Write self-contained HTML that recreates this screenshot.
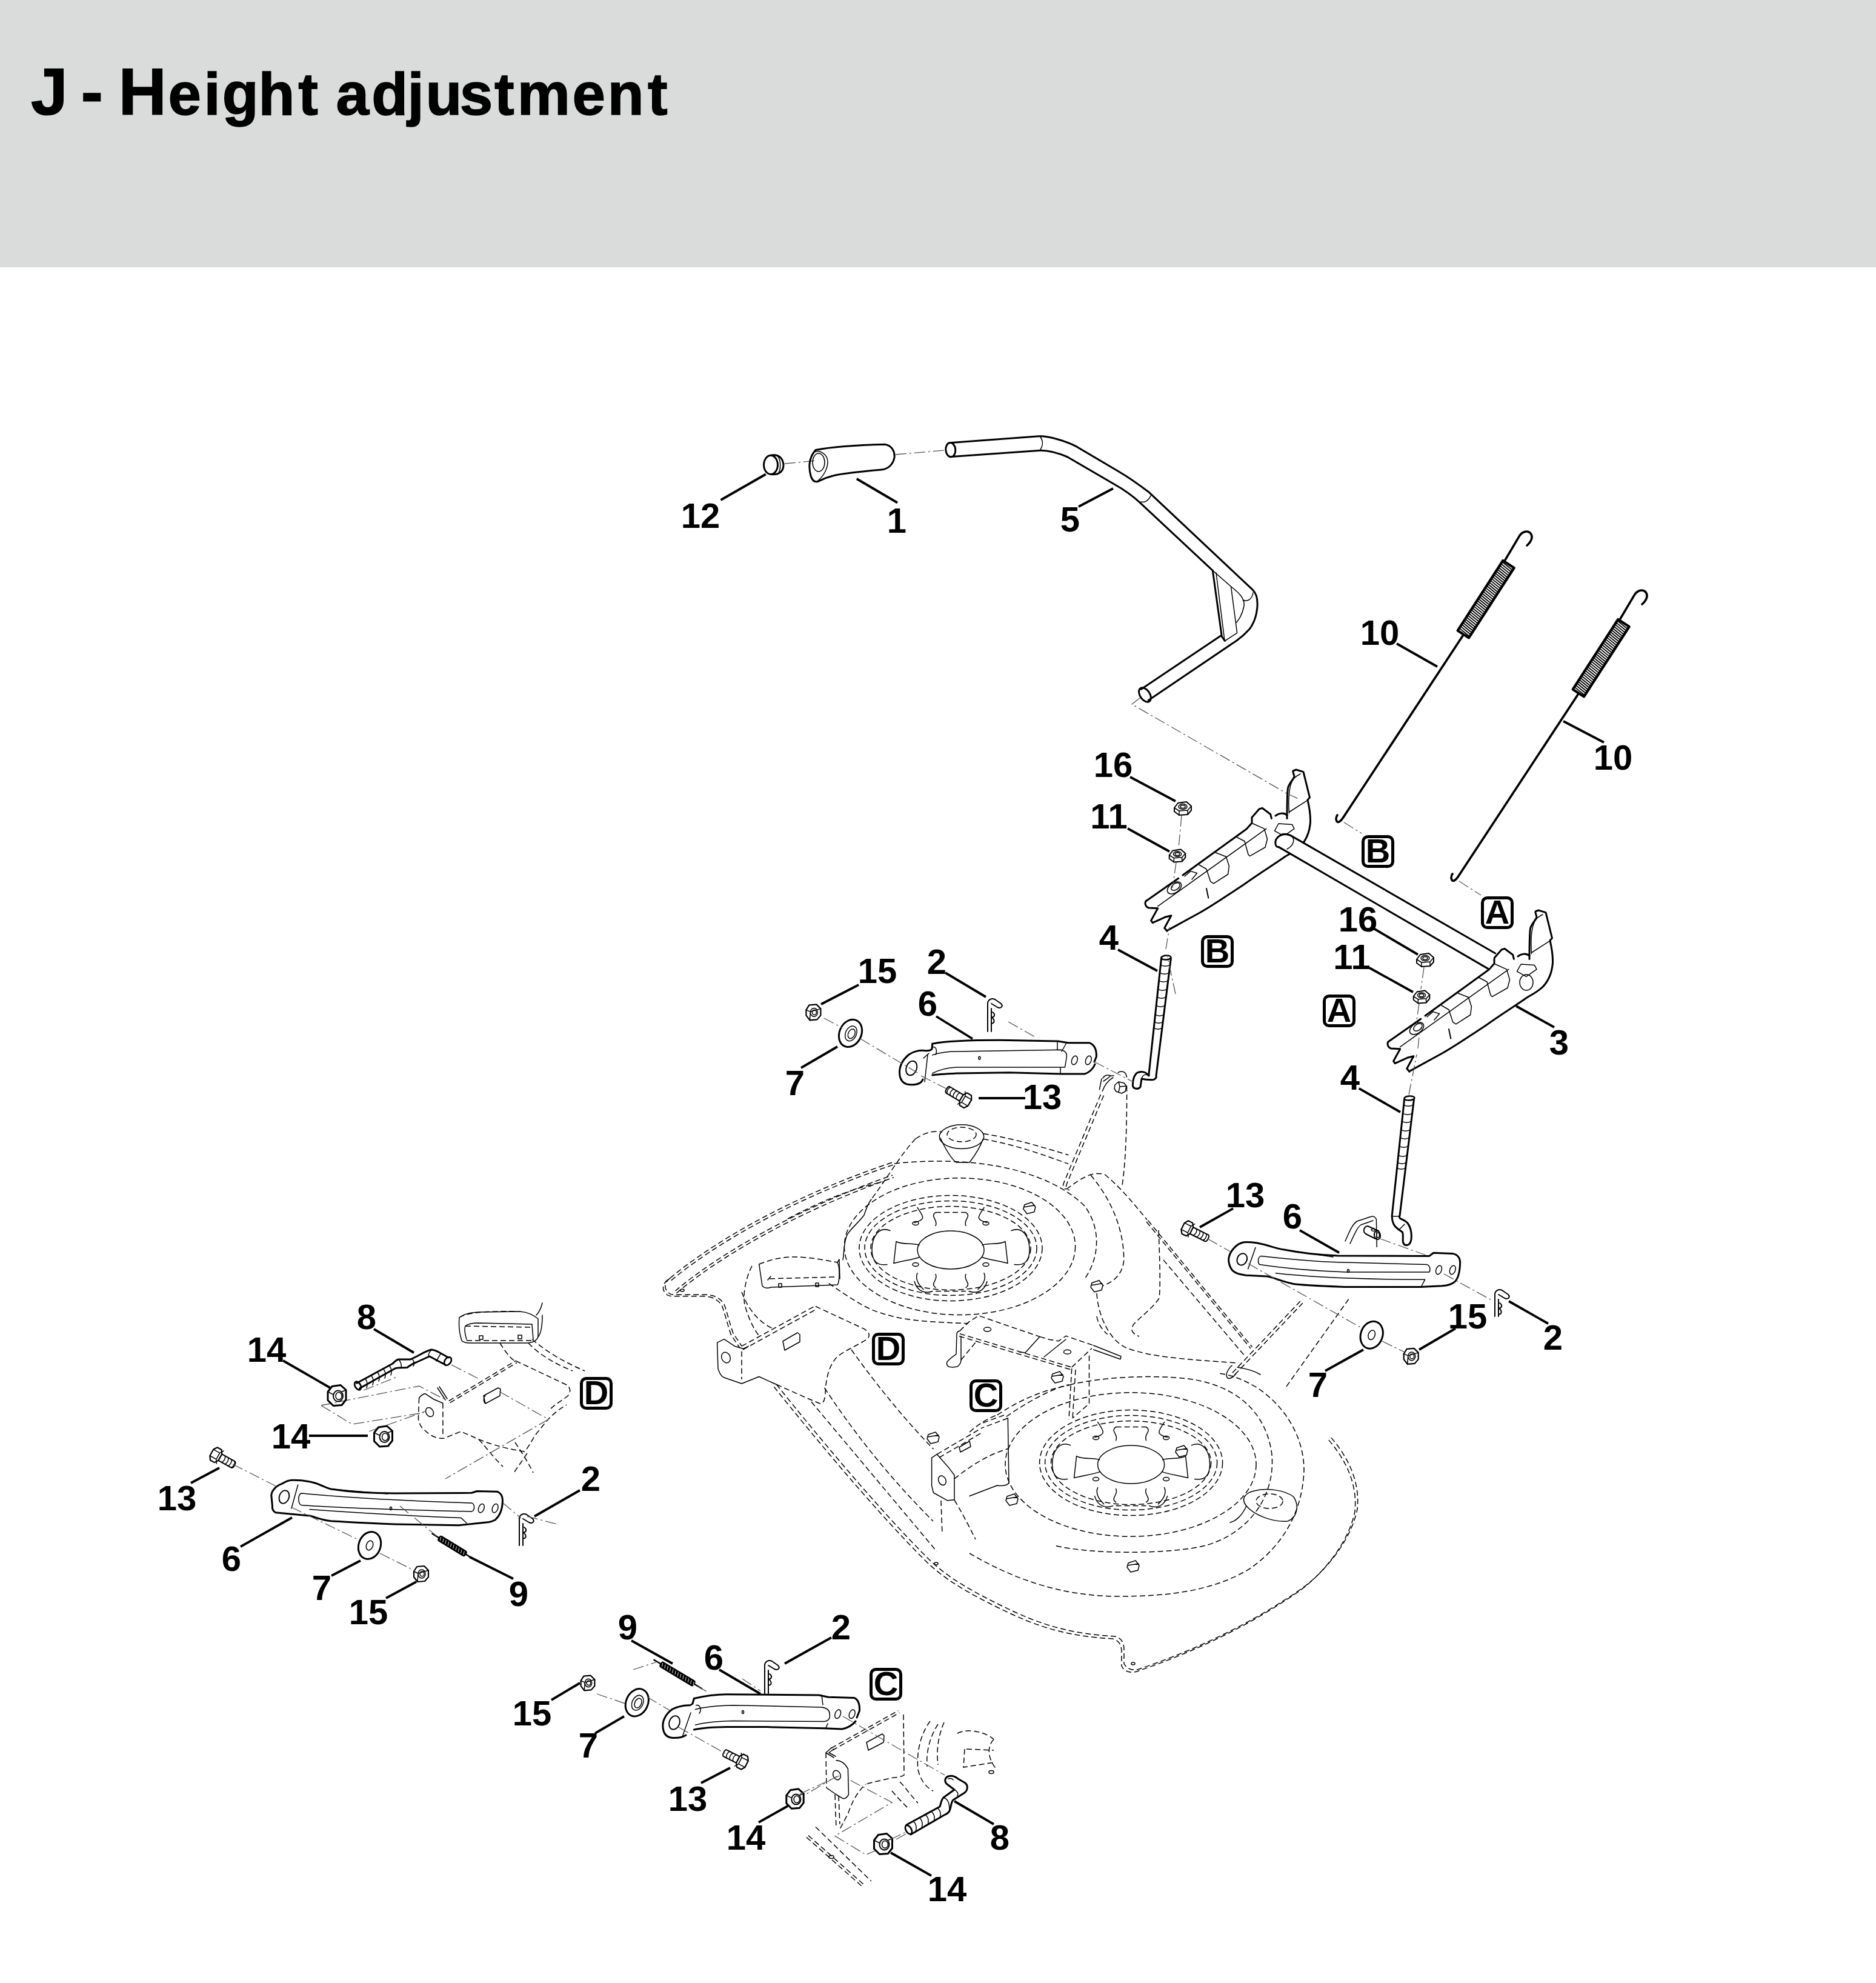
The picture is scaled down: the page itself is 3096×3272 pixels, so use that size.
<!DOCTYPE html>
<html><head><meta charset="utf-8">
<style>
html,body{margin:0;padding:0;background:#fff;}
body{width:3096px;height:3272px;position:relative;overflow:hidden;font-family:"Liberation Sans",sans-serif;}
#hdr{position:absolute;left:0;top:0;width:3096px;height:441px;background:#dadcdb;}
#title{position:absolute;left:52px;top:96px;font-weight:bold;font-size:110px;line-height:1;white-space:nowrap;color:#000;letter-spacing:-3.3px;}
svg{position:absolute;left:0;top:0;}
.lb{font-family:"Liberation Sans",sans-serif;font-weight:bold;font-size:58px;text-anchor:middle;fill:#000;}
.bx{font-family:"Liberation Sans",sans-serif;font-weight:bold;font-size:56px;text-anchor:middle;fill:#000;}
.ol{fill:none;stroke:#000;stroke-width:3;stroke-linejoin:round;stroke-linecap:round;}
.th{fill:none;stroke:#000;stroke-width:1.5;stroke-linejoin:round;stroke-linecap:round;}
.ld{fill:none;stroke:#000;stroke-width:3.8;stroke-linecap:butt;}
.dd{fill:none;stroke:#000;stroke-width:1.5;stroke-dasharray:9 5;}
.dc{fill:none;stroke:#555;stroke-width:1.3;stroke-dasharray:18 5 3 5;}
.wf{fill:#fff;}
</style></head><body>
<div id="hdr"></div>
<svg width="3096" height="3272" viewBox="0 0 3096 3272">
<!-- title.svg -->
<g font-family="Liberation Sans" font-weight="bold" fill="#000" stroke="#000">
<text x="50.75" y="189" font-size="110" stroke-width="1.2">J</text>
<text x="133.6" y="189" font-size="110" stroke-width="1.2">-</text>
<text x="195.5" y="189" font-size="110" stroke-width="1.2">H</text>
<text x="277.4" y="189" font-size="98" stroke-width="1.5">e</text>
<text x="336.5" y="189" font-size="98" stroke-width="1.5">i</text>
<text x="366.7" y="189" font-size="98" stroke-width="1.5">g</text>
<text x="426.4" y="189" font-size="98" stroke-width="1.5">h</text>
<text x="492.2" y="189" font-size="98" stroke-width="1.5">t</text>
<text x="554.5" y="189" font-size="98" stroke-width="1.5">a</text>
<text x="613.2" y="189" font-size="98" stroke-width="1.5">d</text>
<text x="672.4" y="189" font-size="98" stroke-width="1.5">j</text>
<text x="702.4" y="189" font-size="98" stroke-width="1.5">u</text>
<text x="758.8" y="189" font-size="98" stroke-width="1.5">s</text>
<text x="816.1" y="189" font-size="98" stroke-width="1.5">t</text>
<text x="853.8" y="189" font-size="98" stroke-width="1.5">m</text>
<text x="944.6" y="189" font-size="98" stroke-width="1.5">e</text>
<text x="1002.7" y="189" font-size="98" stroke-width="1.5">n</text>
<text x="1068.9" y="189" font-size="98" stroke-width="1.5">t</text>
</g>
<!-- deck.svg -->
<path class="dd" d="M1105.9,2109 C1170,2055 1300,1975 1476,1917"/><path class="dd" transform="translate(1.8,3.8)" d="M1105.9,2109 C1170,2055 1300,1975 1476,1917"/>
<path class="dd" d="M1114.5,2130 C1180,2074 1310,1996 1473,1939"/><path class="dd" transform="translate(1.8,3.8)" d="M1114.5,2130 C1180,2074 1310,1996 1473,1939"/>
<path class="dd" d="M1300,2011 C1350,1985 1400,1962 1458,1950"/>
<path class="dd" d="M1105.9,2109 C1098,2114 1096,2124 1100,2129 C1103,2134 1106,2136 1112,2136.3 L1166,2136.3 C1178,2137 1188,2141 1195,2152 C1200,2165 1203,2180 1210,2200 L1224,2221"/><path class="dd" transform="translate(-3.5,2.5)" d="M1105.9,2109 C1098,2114 1096,2124 1100,2129 C1103,2134 1106,2136 1112,2136.3 L1166,2136.3 C1178,2137 1188,2141 1195,2152 C1200,2165 1203,2180 1210,2200 L1224,2221"/>
<ellipse class="th" cx="1126" cy="2129" rx="3" ry="2"/>
<path class="dd" d="M1281.5,2284.5 C1350,2370 1450,2490 1530,2570 C1560,2600 1600,2625 1675,2660 C1740,2690 1790,2697 1840,2700 C1852,2703 1855,2712 1855,2722 L1855,2745 C1860,2755 1870,2757 1880,2754 C1950,2730 2050,2690 2150,2620 C2190,2590 2230,2540 2240,2490 C2244,2450 2230,2410 2195,2370"/><path class="dd" transform="translate(-4,4)" d="M1281.5,2284.5 C1350,2370 1450,2490 1530,2570 C1560,2600 1600,2625 1675,2660 C1740,2690 1790,2697 1840,2700 C1852,2703 1855,2712 1855,2722 L1855,2745 C1860,2755 1870,2757 1880,2754 C1950,2730 2050,2690 2150,2620 C2190,2590 2230,2540 2240,2490 C2244,2450 2230,2410 2195,2370"/>
<ellipse class="th" cx="1870" cy="2745" rx="3" ry="2"/><ellipse class="th" cx="1545" cy="2580" rx="3" ry="2"/>
<ellipse class="th" cx="1587" cy="1875.6" rx="36.7" ry="19.8"/>
<ellipse class="dd" cx="1587" cy="1872" rx="24" ry="12"/>
<path class="th" d="M1552,1878 C1560,1895 1570,1912 1578,1918 L1600,1918 C1610,1905 1618,1892 1622,1880"/>
<path class="dd" d="M1511,1879 C1530,1866 1545,1866 1555,1868"/>
<path class="dd" d="M1511,1879 C1490,1900 1460,1950 1437.8,1979"/>
<path class="th" d="M1437.8,1979 C1430,1990 1428,2000 1426,2005 C1415,2020 1400,2030 1396.8,2040.6 C1392,2055 1393,2070 1391,2078.7"/>
<path class="dd" d="M1622.5,1870.5 C1680,1880 1720,1893 1763.3,1905.7"/>
<path class="dd" d="M1622.5,1879.3 C1680,1890 1720,1905 1763.3,1920.4"/>
<path class="dd" d="M1476,1920 C1520,1915 1560,1915 1600,1918 C1680,1925 1750,1950 1790,1990 C1820,2030 1812,2080 1790,2110"/>
<ellipse class="dd" cx="1584" cy="2056.7" rx="190.6" ry="112.9"/>
<ellipse class="th" cx="1569" cy="2062.5" rx="55.0" ry="31.5"/>
<ellipse class="dd" cx="1569" cy="2059.5" rx="151.0" ry="87.0"/>
<ellipse class="dd" cx="1569" cy="2059.5" rx="142.0" ry="78.0"/>
<ellipse class="dd" cx="1569" cy="2059.5" rx="132.0" ry="69.0"/>
<path class="th" d="M1621,2054.5 C1631,2050.5 1649,2054.5 1659,2048.5 L1663,2084.5 C1649,2080.5 1631,2078.5 1621,2074.5 M1517,2054.5 C1507,2050.5 1489,2054.5 1479,2048.5 L1475,2084.5 C1489,2080.5 1507,2078.5 1517,2074.5 M1669,2030.5 C1689,2022.5 1699,2042.5 1699,2062.5 C1699,2082.5 1689,2088.5 1674,2086.5 M1469,2030.5 C1449,2022.5 1439,2042.5 1439,2062.5 C1439,2082.5 1449,2088.5 1464,2086.5 M1544,2022.5 C1549,2012.5 1534,2007.5 1544,2000.5 M1594,2022.5 C1589,2012.5 1604,2007.5 1594,2000.5 M1544,2102.5 C1549,2112.5 1534,2117.5 1544,2124.5 M1594,2102.5 C1589,2112.5 1604,2117.5 1594,2124.5 M1514,1992.5 C1524,2007.5 1529,2012.5 1509,2017.5 M1624,1992.5 C1614,2007.5 1609,2012.5 1629,2017.5 M1514,2100.5 C1509,2112.5 1519,2122.5 1524,2127.5 M1624,2100.5 C1629,2112.5 1619,2122.5 1614,2127.5 M1509,2114.5 C1514,2132.5 1529,2134.5 1539,2130.5 M1629,2114.5 C1624,2132.5 1609,2134.5 1599,2130.5 "/>
<path class="dd" d="M1544,2000.5 L1594,2000.5 M1544,2130.5 L1594,2130.5"/>
<ellipse class="th" cx="1511" cy="2018.5" rx="5" ry="3"/>
<ellipse class="th" cx="1627" cy="2018.5" rx="5" ry="3"/>
<ellipse class="th" cx="1511" cy="2086.5" rx="5" ry="3"/>
<ellipse class="th" cx="1627" cy="2086.5" rx="5" ry="3"/>
<ellipse class="th" cx="1866.6" cy="2416.6" rx="55.0" ry="31.5"/>
<ellipse class="dd" cx="1866.6" cy="2413.6" rx="151.0" ry="87.0"/>
<ellipse class="dd" cx="1866.6" cy="2413.6" rx="142.0" ry="78.0"/>
<ellipse class="dd" cx="1866.6" cy="2413.6" rx="132.0" ry="69.0"/>
<path class="th" d="M1918.6,2408.6 C1928.6,2404.6 1946.6,2408.6 1956.6,2402.6 L1960.6,2438.6 C1946.6,2434.6 1928.6,2432.6 1918.6,2428.6 M1814.6,2408.6 C1804.6,2404.6 1786.6,2408.6 1776.6,2402.6 L1772.6,2438.6 C1786.6,2434.6 1804.6,2432.6 1814.6,2428.6 M1966.6,2384.6 C1986.6,2376.6 1996.6,2396.6 1996.6,2416.6 C1996.6,2436.6 1986.6,2442.6 1971.6,2440.6 M1766.6,2384.6 C1746.6,2376.6 1736.6,2396.6 1736.6,2416.6 C1736.6,2436.6 1746.6,2442.6 1761.6,2440.6 M1841.6,2376.6 C1846.6,2366.6 1831.6,2361.6 1841.6,2354.6 M1891.6,2376.6 C1886.6,2366.6 1901.6,2361.6 1891.6,2354.6 M1841.6,2456.6 C1846.6,2466.6 1831.6,2471.6 1841.6,2478.6 M1891.6,2456.6 C1886.6,2466.6 1901.6,2471.6 1891.6,2478.6 M1811.6,2346.6 C1821.6,2361.6 1826.6,2366.6 1806.6,2371.6 M1921.6,2346.6 C1911.6,2361.6 1906.6,2366.6 1926.6,2371.6 M1811.6,2454.6 C1806.6,2466.6 1816.6,2476.6 1821.6,2481.6 M1921.6,2454.6 C1926.6,2466.6 1916.6,2476.6 1911.6,2481.6 M1806.6,2468.6 C1811.6,2486.6 1826.6,2488.6 1836.6,2484.6 M1926.6,2468.6 C1921.6,2486.6 1906.6,2488.6 1896.6,2484.6 "/>
<path class="dd" d="M1841.6,2354.6 L1891.6,2354.6 M1841.6,2484.6 L1891.6,2484.6"/>
<ellipse class="th" cx="1808.6" cy="2372.6" rx="5" ry="3"/>
<ellipse class="th" cx="1924.6" cy="2372.6" rx="5" ry="3"/>
<ellipse class="th" cx="1808.6" cy="2440.6" rx="5" ry="3"/>
<ellipse class="th" cx="1924.6" cy="2440.6" rx="5" ry="3"/>
<ellipse class="dd" cx="1866" cy="2416.5" rx="207" ry="118.7"/>
<path class="dd" d="M1765,2285 C1820,2272 1900,2268 1960,2275 C2040,2285 2090,2330 2099,2400 C2105,2470 2060,2530 1990,2550 C1930,2565 1800,2565 1740,2550"/>
<path class="dd" d="M1600,2563 C1680,2610 1760,2634 1846,2634 C1930,2634 2000,2625 2060,2590 C2120,2550 2150,2490 2152,2426 C2152,2370 2120,2320 2075,2290 C2050,2275 2030,2268 2010,2266"/>
<path class="dd" d="M1645.7,2334.8 C1690,2305 1730,2292 1765.3,2285.5"/>
<path class="dd" d="M1600,2363 C1615,2350 1630,2340 1645.7,2334.8"/>
<path class="th" d="M2070,2460 C2090,2455 2120,2458 2135,2470 C2145,2485 2140,2505 2125,2510 C2100,2512 2070,2500 2057,2485 C2045,2470 2060,2462 2070,2460"/>
<ellipse class="dd" cx="2095" cy="2477" rx="22" ry="12"/>
<path class="th" d="M2057,2485 C2050,2500 2040,2510 2030,2512"/>
<path class="dd" d="M1816.5,1806 L1755.5,1952 C1753,1958 1756,1962 1760,1962"/><path class="dd" transform="translate(5,1.5)" d="M1816.5,1806 L1755.5,1952 C1753,1958 1756,1962 1760,1962"/>
<path class="dd" d="M1760,1962 C1770,1955 1780,1947 1790.7,1942.3 C1800,1937 1812,1935 1822.7,1937.5 C1850,1960 1870,1985 1893,2012.6"/>
<path class="dd" d="M1859.5,1792 C1860,1850 1858,1920 1851.5,1958.3"/>
<path class="dd" d="M1892,2016 L2064,2225"/><path class="dd" transform="translate(2.6,-2.2)" d="M1892,2016 L2064,2225"/>
<path class="dd" d="M1920,2079 L2054,2237"/>
<path class="dd" d="M2033.8,2265.3 L2148.9,2143.8"/><path class="dd" transform="translate(4,3)" d="M2033.8,2265.3 L2148.9,2143.8"/>
<path class="dd" d="M2123,2287.7 L2225.6,2143.8"/>
<path class="th" d="M2033,2253 C2024,2262 2022,2270 2026,2274 C2030,2276 2036,2272 2040,2266 M2042,2256 C2055,2258 2070,2262 2080,2268"/>
<path class="dd" d="M1810,2134 C1812,2170 1830,2210 1857.9,2223.7 C1900,2240 1960,2243 2043,2249"/>
<path class="dd" d="M1800,1939 C1835,1980 1855,2030 1854.7,2079.8 C1853,2100 1840,2115 1819.5,2121.4"/>
<path class="dd" d="M1912,2030 C1915,2100 1915,2140 1912,2143.8 C1900,2160 1880,2175 1870.7,2185.3 C1865,2195 1868,2200 1880,2205"/>
<path class="dd" d="M1810,2172 C1812,2185 1820,2195 1827.8,2201.8"/>
<path class="th" d="M1690.8,1987.7 L1702.8,1983.7 L1708.8,1991.7 L1706.8,1999.7 L1694.8,2002.7 L1688.8,1994.7 Z M1689.8,1991.7 L1707.8,1988.7"/>
<path class="th" d="M1802,2116.7 L1814,2112.7 L1820,2120.7 L1818,2128.7 L1806,2131.7 L1800,2123.7 Z M1801,2120.7 L1819,2117.7"/>
<path class="th" d="M1532,2367 L1544,2363 L1550,2371 L1548,2379 L1536,2382 L1530,2374 Z M1531,2371 L1549,2368"/>
<path class="th" d="M1662,2469 L1674,2465 L1680,2473 L1678,2481 L1666,2484 L1660,2476 Z M1661,2473 L1679,2470"/>
<path class="th" d="M1942,2389 L1954,2385 L1960,2393 L1958,2401 L1946,2404 L1940,2396 Z M1941,2393 L1959,2390"/>
<path class="th" d="M1862,2579 L1874,2575 L1880,2583 L1878,2591 L1866,2594 L1860,2586 Z M1861,2583 L1879,2580"/>
<path class="th" d="M1737,2267 L1749,2263 L1755,2271 L1753,2279 L1741,2282 L1735,2274 Z M1736,2271 L1754,2268"/>
<path class="th" d="M1663.3,2340 L1665,2447.4 C1660,2452 1650,2452 1645.7,2451 L1600,2468.5"/>
<path class="dd" d="M1663.3,2340 L1620,2356.4 M1657,2335 L1616,2350"/>
<path class="dd" d="M1584,2196 L1598.4,2181.6 L1615,2170.8 L1632,2176.8 L1716,2205.6 M1716,2205.6 L1732.7,2210.4 L1747,2212.8 L1759,2204.4 L1804.7,2220 M1768.7,2256 L1802,2224.7 M1586,2244 L1610,2215"/>
<path class="dd" d="M1584,2200.8 L1768.7,2256"/><path class="dd" transform="translate(-1,4)" d="M1584,2200.8 L1768.7,2256"/>
<path class="th" d="M1804.7,2220 L1850,2238 L1849,2242.7 L1804.7,2227 M1682,2230.7 L1692,2232 L1716,2205.6 M1723,2239 L1759,2210 M1579,2200.8 L1578,2234.3 C1570,2240 1563,2246 1562.4,2248.7 C1562,2254 1566,2256 1572,2256 L1580,2255 C1584,2252 1586,2248 1586,2244 L1586,2205 M1584,2196 C1580,2197 1579,2199 1579,2200.8"/>
<ellipse class="th" cx="1629.5" cy="2193.6" rx="6" ry="3.5"/><ellipse class="th" cx="1761.5" cy="2230.7" rx="6" ry="3.5"/>
<path class="dd" d="M1768.7,2258 L1764,2342.3 M1775,2260 L1770,2342 M1797.5,2236.7 L1797.5,2316 L1770,2340 M1660.7,2337.5 C1700,2310 1740,2290 1764,2284.7"/>
<path class="th" d="M1183.6,2215.4 L1195,2209.7 L1212.4,2221.2 L1226.8,2225.5 L1235.4,2221.2 M1183.6,2215.4 L1185,2258.6 C1188,2268 1192,2272 1195,2273 L1224,2283 L1252.7,2271.5 L1281.5,2284.5"/>
<path class="dd" d="M1281.5,2284.5 L1333,2307.5 L1353.4,2316 C1358,2316 1361,2312 1362,2300 C1363,2270 1370,2250 1382.2,2238.4 C1395,2228 1415,2220 1431,2209.7 C1436,2205 1436,2198 1425.4,2192.4 L1344.8,2155"/>
<path class="dd" d="M1224,2221.2 L1344.8,2155 M1226,2227 L1346,2161"/>
<path class="dd" d="M1224,2229.8 L1224,2275.9"/>
<ellipse class="th" cx="1198" cy="2240" rx="7" ry="9" transform="rotate(-25 1198 2240)"/>
<path class="th" d="M1292,2213 L1316,2199 L1320,2202 L1320,2214 L1295,2228 Z"/>
<path class="dd" d="M1339,2313 L1546,2560 M1360.6,2290 C1420,2380 1480,2450 1540,2510 M1405,2227 C1450,2290 1500,2350 1540.5,2391"/>
<path class="dd" d="M1367.8,2117.6 C1400,2140 1430,2160 1454,2166.5 C1490,2178 1520,2181 1598,2183.8"/>
<path class="dd" d="M1241,2088.8 C1230,2110 1225,2140 1229.7,2155 C1235,2175 1245,2195 1252.7,2204"/>
<path class="dd" d="M1224,2132 C1235,2160 1250,2180 1275.7,2192.4"/>
<path class="th" d="M1252.7,2086 L1258,2122 C1262,2126 1268,2126 1272,2124 L1382,2120 C1386,2115 1386,2090 1382,2083"/>
<path class="dd" d="M1252.7,2086 C1280,2075 1300,2073 1324.6,2074.4 C1345,2076 1365,2080 1382,2083 M1270,2110 L1380,2107"/>
<path class="th" d="M1382,2083 L1385,2078 L1386,2110 M1272,2106 L1267,2112"/>
<path class="th" d="M1285,2118 L1290,2118 L1290,2124 L1285,2124 Z M1346,2117 L1351,2117 L1351,2123 L1346,2123 Z"/>
<path class="th" d="M1537.6,2405.4 L1546.2,2399.6 L1566.4,2422.6 L1575,2434 L1575,2474.4 L1563.5,2475.9 L1540.5,2463 L1537.6,2451.4 Z"/>
<ellipse class="th" cx="1554.9" cy="2442.8" rx="6" ry="8" transform="rotate(-25 1554.9 2442.8)"/>
<path class="dd" d="M1546.2,2399.6 L1620,2356.4 M1550,2405 L1622,2363 M1553,2476 L1555,2532 M1575,2475 C1590,2500 1600,2520 1610,2540"/>
<path class="th" d="M1583,2388 L1600,2378 L1602,2387 L1585,2396 Z"/>
<path class="dd" d="M1575,2440 C1600,2420 1630,2400 1665,2390"/>
<path class="th" d="M762,2212 C758,2200 757,2185 758,2174 C766,2168 775,2166 790,2165 L858,2164 C872,2165 880,2170 888,2176 L888,2206 C886,2212 880,2215 872,2216 L775,2216 C768,2216 764,2214 762,2212 Z M770,2210 C767,2200 766,2192 768,2188 C772,2184 780,2183 790,2183 L878,2185 L880,2210"/>
<path class="dd" d="M768,2188 L880,2190 M770,2212 L880,2212 M758,2174 C770,2166 800,2163 850,2164"/>
<path class="th" d="M791,2204 L797,2204 L797,2210 L791,2210 Z M855,2203 L861,2203 L861,2209 L855,2209 Z M885,2170 C890,2165 893,2158 895,2150 M888,2206 C893,2200 895,2190 895,2170"/>
<path class="dd" d="M825,2216 C835,2232 845,2245 852,2246 M872,2216 C890,2235 915,2250 945,2262 M878,2210 C900,2228 925,2245 965,2262"/>
<path class="th" d="M691.6,2306.7 C695,2302 699,2300 701.4,2299.4 L716,2309 L730.9,2315.3"/>
<path class="dd" d="M691.6,2306.7 L690.4,2341 C692,2350 695,2355 699,2358.2 C705,2364 710,2368 716,2370.5 C722,2373 728,2374 733.3,2373 L760.3,2362 L777.5,2369.3 C800,2380 830,2390 865.7,2395 C875,2385 880,2370 890,2360 C905,2340 915,2330 935,2318"/>
<path class="dd" d="M730.9,2315.3 L730.9,2370"/>
<path class="dd" d="M740.7,2311.6 L851,2245.4"/><path class="dd" transform="translate(2,3)" d="M740.7,2311.6 L851,2245.4"/>
<path class="dd" d="M851,2245.4 L935,2285 C943,2290 942,2300 935,2305 C925,2312 915,2318 905,2328"/>
<ellipse class="th" cx="709" cy="2330" rx="6" ry="8" transform="rotate(-30 709 2330)"/>
<path class="th" d="M798,2303 L822,2290 L826,2292 L825,2303 L801,2316 Z M801,2303 C798,2305 797,2312 801,2316"/>
<path class="th" d="M722,2290 L735,2310 M725,2288 L738,2308"/>
<path class="dd" d="M790,2375 C800,2385 810,2400 830,2420 M850,2380 C860,2395 870,2410 880,2430 M870,2398 L855,2420 L848,2430"/>
<path class="dc" d="M530,2319 L691.6,2287 L732,2308 M530,2319 L581,2350 L699,2331 M609,2362 L704,2328 M745,2252 L792,2276 M824,2296 L905,2342 L735,2440"/>
<path class="th" d="M1380,2904.7 C1388,2905 1395,2910 1399.4,2918.6 L1400.5,2961.2 C1398,2966 1394,2968 1391,2967.6 L1380,2961 L1365,2950.6"/>
<path class="th" d="M1372,2884 L1363,2892 L1376,2900 M1376,2886 L1368,2892 L1379,2898"/>
<ellipse class="th" cx="1381" cy="2929" rx="6" ry="8" transform="rotate(-25 1381 2929)"/>
<path class="dd" d="M1363,2892 L1364,2950.6 M1378,2961 L1380,3016.7 M1384,2963 L1386,3010 M1386.6,3016.7 C1392,3008 1396,2998 1399.4,2993.2 C1402,2985 1405,2978 1408,2972 C1414,2960 1420,2952 1429,2944 M1491,2829 L1492,2929 C1488,2932 1478,2933 1472,2933.5 C1455,2938 1440,2940 1429,2944"/>
<path class="dd" d="M1371.7,2884.5 L1482.5,2822.6"/><path class="dd" transform="translate(2,3.5)" d="M1371.7,2884.5 L1482.5,2822.6"/>
<path class="th" d="M1430,2875 L1456,2861 L1459,2864 L1458,2875 L1433,2888 Z"/>
<path class="dd" d="M1485,2940 C1495,2950 1505,2965 1515,2975 M1472,2955 C1480,2965 1490,2975 1500,2985 M1346,3014.5 L1437.8,3104"/>
<path class="dd" d="M1331,3031.6 L1425,3114.7"/><path class="dd" transform="translate(3,-3)" d="M1331,3031.6 L1425,3114.7"/>
<ellipse class="th" cx="1372" cy="3064" rx="4" ry="2.5"/>
<path class="dd" d="M1535,2840 C1520,2860 1512,2890 1515,2920 C1520,2940 1530,2950 1540,2955 M1548,2845 C1535,2865 1528,2890 1530,2915 M1558,2842 C1548,2865 1545,2890 1548,2912 M1580,2860 C1600,2850 1630,2860 1640,2870 M1595,2886 L1640,2888 M1592,2886 L1590,2916 L1640,2908 M1640,2870 C1630,2880 1628,2900 1645,2920"/>
<ellipse class="th" cx="1636" cy="2924" rx="4" ry="2.5"/>
<path class="dc" d="M1391,2832 L1559,2929 M1381,2931 L1331,2960 M1403.7,2937.8 L1472,2974 L1378,3029.4 L1429,3060.4 L1446.3,3053 M1479,3035 L1497,3025"/>
<!-- parts_top.svg -->
<g id="handle">
<path class="dc" d="M1295,765 L1347,760 M1478,750 L1560,743"/>
<ellipse class="ol" cx="1272" cy="767" rx="11.5" ry="15.5"/>
<path class="ol" d="M1271,751.5 C1285,748 1292,756 1293,767 C1293,777 1287,784 1272,782.5"/>
<path class="th" d="M1281,751 C1289,755 1290,775 1283,783"/>
<path class="ol" d="M1346,742.5 C1375,737 1412,734.5 1460,733.3 C1472,735 1477,745 1476,755 C1474,766 1466,774 1455,775 C1420,778 1390,781 1375,785 C1362,788 1355,792 1350,794.5 C1344,796 1340,792 1338,785 C1334,770 1335,755 1346,742.5 Z"/>
<ellipse class="th" cx="1351" cy="763" rx="10" ry="15"/>
<path class="th" d="M1343,747 C1352,740 1366,750 1366,762 C1366,772 1360,785 1350,793"/>
<path class="ol" d="M1569.8,730.5 L1714.8,719.8 C1730,719 1760,728 1776.7,736.9 L1847,778.5 C1865,789 1880,800 1896.3,812.3 L2067.8,973.7 C2080,986 2076,1020 2061.8,1038.3 C2055,1046 2048,1052 2041.6,1056.5 L1895.3,1155.4"/>
<path class="ol" d="M1571,753.5 L1717,743.3 C1735,743 1750,749 1761.7,754 L1838.5,798.7 C1855,808 1868,817 1880.2,828.4 L2001.3,941.4"/>
<path class="ol" d="M2015.4,1048.4 L1883.2,1137.2"/>
<ellipse class="ol" cx="1568.8" cy="742.2" rx="8" ry="11.7" transform="rotate(-5 1568.8 742.2)"/>
<ellipse class="ol" cx="1889.5" cy="1146.5" rx="8" ry="13" transform="rotate(-35 1889.5 1146.5)"/>
<path class="th" d="M1717,721 C1722,728 1721,736 1717,742 M1883,828 C1890,830 1896,825 1899,818"/>
<path class="th" d="M2051,990 C2058,993 2066,990 2068,978 M2031.5,967.7 C2040,975 2055,985 2053,1000 C2050,1015 2045,1022 2040.6,1027"/>
<path class="ol" d="M2001.3,941.4 L2016.4,1050.4 L2021.4,1057.5"/>
<path class="th" d="M2001.3,941.4 L2031.5,967.7 L2041.6,1044.4 L2021.4,1057.5 M2007,945 L2021,1057"/>
<path class="dc" d="M1882,1151 L1868,1162 L2125,1310"/>
</g>

<!-- parts.svg -->
<g transform="translate(0,0)">
<path class="ol" style="stroke-width:4.2" d="M2498.7,937.0 L2424.1,1052.4 L2405.7,1040.4 L2480.3,925.0 Z"/>
<path class="th" style="stroke-width:1.8;stroke-linecap:butt" d="M2478.3,926.6 L2496.8,941.5 M2476.3,929.6 L2494.8,944.5 M2474.4,932.6 L2492.8,947.6 M2472.4,935.7 L2490.9,950.6 M2470.4,938.7 L2488.9,953.7 M2468.5,941.7 L2487.0,956.7 M2466.5,944.8 L2485.0,959.7 M2464.6,947.8 L2483.0,962.8 M2462.6,950.9 L2481.1,965.8 M2460.6,953.9 L2479.1,968.8 M2458.7,956.9 L2477.1,971.9 M2456.7,960.0 L2475.2,974.9 M2454.7,963.0 L2473.2,978.0 M2452.8,966.0 L2471.3,981.0 M2450.8,969.1 L2469.3,984.0 M2448.9,972.1 L2467.3,987.1 M2446.9,975.2 L2465.4,990.1 M2444.9,978.2 L2463.4,993.1 M2443.0,981.2 L2461.4,996.2 M2441.0,984.3 L2459.5,999.2 M2439.0,987.3 L2457.5,1002.2 M2437.1,990.3 L2455.5,1005.3 M2435.1,993.4 L2453.6,1008.3 M2433.1,996.4 L2451.6,1011.4 M2431.2,999.4 L2449.7,1014.4 M2429.2,1002.5 L2447.7,1017.4 M2427.3,1005.5 L2445.7,1020.5 M2425.3,1008.6 L2443.8,1023.5 M2423.3,1011.6 L2441.8,1026.5 M2421.4,1014.6 L2439.8,1029.6 M2419.4,1017.7 L2437.9,1032.6 M2417.4,1020.7 L2435.9,1035.7 M2415.5,1023.7 L2434.0,1038.7 M2413.5,1026.8 L2432.0,1041.7 M2411.6,1029.8 L2430.0,1044.8 M2409.6,1032.9 L2428.1,1047.8 M2407.6,1035.9 L2426.1,1050.8 "/>
<path class="ol" style="stroke-width:3.6" d="M2484,924 L2507.5,884.4 C2512,877 2520,875 2525,879 C2530,884 2529,892 2520,900"/>
<path class="ol" style="stroke-width:3.6" d="M2414.4,1048.5 L2216,1350 C2212,1356 2208,1358 2206,1355 C2204,1351 2205,1348 2207,1345"/>
</g>
<g transform="translate(190,97)">
<path class="ol" style="stroke-width:4.2" d="M2498.7,937.0 L2424.1,1052.4 L2405.7,1040.4 L2480.3,925.0 Z"/>
<path class="th" style="stroke-width:1.8;stroke-linecap:butt" d="M2478.3,926.6 L2496.8,941.5 M2476.3,929.6 L2494.8,944.5 M2474.4,932.6 L2492.8,947.6 M2472.4,935.7 L2490.9,950.6 M2470.4,938.7 L2488.9,953.7 M2468.5,941.7 L2487.0,956.7 M2466.5,944.8 L2485.0,959.7 M2464.6,947.8 L2483.0,962.8 M2462.6,950.9 L2481.1,965.8 M2460.6,953.9 L2479.1,968.8 M2458.7,956.9 L2477.1,971.9 M2456.7,960.0 L2475.2,974.9 M2454.7,963.0 L2473.2,978.0 M2452.8,966.0 L2471.3,981.0 M2450.8,969.1 L2469.3,984.0 M2448.9,972.1 L2467.3,987.1 M2446.9,975.2 L2465.4,990.1 M2444.9,978.2 L2463.4,993.1 M2443.0,981.2 L2461.4,996.2 M2441.0,984.3 L2459.5,999.2 M2439.0,987.3 L2457.5,1002.2 M2437.1,990.3 L2455.5,1005.3 M2435.1,993.4 L2453.6,1008.3 M2433.1,996.4 L2451.6,1011.4 M2431.2,999.4 L2449.7,1014.4 M2429.2,1002.5 L2447.7,1017.4 M2427.3,1005.5 L2445.7,1020.5 M2425.3,1008.6 L2443.8,1023.5 M2423.3,1011.6 L2441.8,1026.5 M2421.4,1014.6 L2439.8,1029.6 M2419.4,1017.7 L2437.9,1032.6 M2417.4,1020.7 L2435.9,1035.7 M2415.5,1023.7 L2434.0,1038.7 M2413.5,1026.8 L2432.0,1041.7 M2411.6,1029.8 L2430.0,1044.8 M2409.6,1032.9 L2428.1,1047.8 M2407.6,1035.9 L2426.1,1050.8 "/>
<path class="ol" style="stroke-width:3.6" d="M2484,924 L2507.5,884.4 C2512,877 2520,875 2525,879 C2530,884 2529,892 2520,900"/>
<path class="ol" style="stroke-width:3.6" d="M2414.4,1048.5 L2216,1350 C2212,1356 2208,1358 2206,1355 C2204,1351 2205,1348 2207,1345"/>
</g>
<path class="dc" d="M2218,1357 L2247,1375 M2408,1454 L2444,1477"/>
<g>
<path class="ol" d="M2291,1719 L2344.8,1681.3 M2352,1676 L2457,1600 L2466,1590 L2466,1580.7 L2478,1567 L2483,1565.3 L2496.7,1575.5 L2498.4,1582.4 M2505,1578 C2510,1574 2518,1572 2524,1577"/>
<path class="ol" d="M2524,1582.4 C2524,1560 2524,1540 2525.7,1531.2 C2528,1524 2534,1518 2536,1514 C2536,1510 2533,1506 2534,1504 L2539,1502 L2551,1505.6 L2561.5,1548 L2558,1551.7 C2561,1565 2563,1580 2562.4,1590 C2561,1605 2556,1618 2546,1628.4 C2538,1636 2530,1640 2520,1646 C2500,1660 2480,1672 2450.6,1693 C2420,1713 2400,1727 2380,1738 C2360,1749 2345,1757 2327.8,1766.6"/>
<path class="ol" d="M2291,1719 C2289,1722 2290,1728 2295.4,1730 L2310.7,1730.8 L2299.6,1751 L2302.2,1754.7 L2322.7,1745.3 L2332.9,1742.7 L2321.8,1763.2 L2326,1768.3"/>
<path class="th" d="M2310.7,1727.4 L2489.8,1599.4 M2527.4,1573.8 C2526,1550 2527,1525 2536,1515.8 C2540,1512 2546,1509 2546,1509 M2527.4,1572 L2556.4,1553.4"/>
<path class="th" d="M2379,1659 L2391,1666 L2397.7,1686.4 L2402.8,1689.8 L2426.7,1674.5 L2428.4,1660.8 L2423.3,1645.5 L2406,1638.7"/>
<path class="th" d="M2440.4,1613 L2454,1620 L2460,1642 L2462.5,1644.6 L2488,1630 L2491.5,1616.5 L2486.4,1599.4 L2467.7,1591"/>
<path class="th" d="M2503.5,1602.8 L2510,1591 L2532.5,1592.6 L2536,1599.4 L2518.8,1611.4 Z"/>
<ellipse class="th" cx="2519" cy="1621" rx="11" ry="13"/>
<ellipse class="th" cx="2338" cy="1697" rx="13" ry="8" transform="rotate(-35 2338 1697)"/>
<ellipse class="th" cx="2340" cy="1695" rx="8" ry="5" transform="rotate(-35 2340 1695)"/>
<path class="ol" style="stroke-width:2" d="M2391,1698 L2394.3,1713.7"/>
<path class="th" d="M2355,1678 L2365,1669.4 L2375.5,1672.8 L2367,1683"/>
</g>
<g transform="translate(-400,-232)">
<path class="ol" d="M2291,1719 L2344.8,1681.3 M2352,1676 L2457,1600 L2466,1590 L2466,1580.7 L2478,1567 L2483,1565.3 L2496.7,1575.5 L2498.4,1582.4 M2505,1578 C2510,1574 2518,1572 2524,1577"/>
<path class="ol" d="M2524,1582.4 C2524,1560 2524,1540 2525.7,1531.2 C2528,1524 2534,1518 2536,1514 C2536,1510 2533,1506 2534,1504 L2539,1502 L2551,1505.6 L2561.5,1548 L2558,1551.7 C2561,1565 2563,1580 2562.4,1590 C2561,1605 2556,1618 2546,1628.4 C2538,1636 2530,1640 2520,1646 C2500,1660 2480,1672 2450.6,1693 C2420,1713 2400,1727 2380,1738 C2360,1749 2345,1757 2327.8,1766.6"/>
<path class="ol" d="M2291,1719 C2289,1722 2290,1728 2295.4,1730 L2310.7,1730.8 L2299.6,1751 L2302.2,1754.7 L2322.7,1745.3 L2332.9,1742.7 L2321.8,1763.2 L2326,1768.3"/>
<path class="th" d="M2310.7,1727.4 L2489.8,1599.4 M2527.4,1573.8 C2526,1550 2527,1525 2536,1515.8 C2540,1512 2546,1509 2546,1509 M2527.4,1572 L2556.4,1553.4"/>
<path class="th" d="M2379,1659 L2391,1666 L2397.7,1686.4 L2402.8,1689.8 L2426.7,1674.5 L2428.4,1660.8 L2423.3,1645.5 L2406,1638.7"/>
<path class="th" d="M2440.4,1613 L2454,1620 L2460,1642 L2462.5,1644.6 L2488,1630 L2491.5,1616.5 L2486.4,1599.4 L2467.7,1591"/>
<path class="th" d="M2503.5,1602.8 L2510,1591 L2532.5,1592.6 L2536,1599.4 L2518.8,1611.4 Z"/>
<ellipse class="th" cx="2519" cy="1621" rx="11" ry="13"/>
<ellipse class="th" cx="2338" cy="1697" rx="13" ry="8" transform="rotate(-35 2338 1697)"/>
<ellipse class="th" cx="2340" cy="1695" rx="8" ry="5" transform="rotate(-35 2340 1695)"/>
<path class="ol" style="stroke-width:2" d="M2391,1698 L2394.3,1713.7"/>
<path class="th" d="M2355,1678 L2365,1669.4 L2375.5,1672.8 L2367,1683"/>
</g>
<path fill="#fff" stroke="none" d="M2129.6,1378.4 L2467.7,1573 L2457.4,1599.4 L2110.4,1397.6 C2100,1392 2104,1372 2129.6,1378.4 Z"/>
<path class="ol" d="M2129.6,1378.4 L2467.7,1573 M2110.4,1397.6 L2457.4,1599.4"/>
<path class="ol" d="M2129.6,1378.4 C2115,1372 2103,1383 2105,1393 C2106,1397 2108,1398 2110.4,1397.6"/>
<path class="th" d="M2129.6,1378.4 C2138,1383 2136,1395 2124,1401"/>
<path class="wf" d="M2080,1395 L2090,1380 L2100,1378 L2110,1400 L2095,1410 Z" style="display:none"/>
<path class="dc" d="M2125,1310 L2143,1318"/>
<path class="ol" style="stroke-width:2" d="M1938.0,1333.0 L1944.0,1325.0 L1958.0,1323.0 L1966.0,1330.0 L1966.0,1337.0 L1960.0,1344.0 L1946.0,1345.0 L1938.0,1339.0 Z"/><path class="th" d="M1938.0,1333.0 L1946.0,1338.0 L1960.0,1337.0 L1966.0,1330.0 M1946.0,1338.0 L1946.0,1345.0 M1960.0,1337.0 L1960.0,1344.0"/><ellipse class="th" cx="1952" cy="1331.0" rx="7.0" ry="4.5"/><ellipse class="th" cx="1952" cy="1331.0" rx="4.0" ry="2.5"/>
<path class="ol" style="stroke-width:2" d="M1929.7,1411.0 L1935.4,1403.5 L1948.7,1401.5 L1956.3,1408.2 L1956.3,1414.8 L1950.6,1421.5 L1937.3,1422.5 L1929.7,1416.8 Z"/><path class="th" d="M1929.7,1411.0 L1937.3,1415.8 L1950.6,1414.8 L1956.3,1408.2 M1937.3,1415.8 L1937.3,1422.5 M1950.6,1414.8 L1950.6,1421.5"/><ellipse class="th" cx="1943" cy="1409.15" rx="6.6499999999999995" ry="4.2749999999999995"/><ellipse class="th" cx="1943" cy="1409.15" rx="3.8" ry="2.375"/>
<path class="ol" style="stroke-width:2" d="M2338.0,1583.0 L2344.0,1575.0 L2358.0,1573.0 L2366.0,1580.0 L2366.0,1587.0 L2360.0,1594.0 L2346.0,1595.0 L2338.0,1589.0 Z"/><path class="th" d="M2338.0,1583.0 L2346.0,1588.0 L2360.0,1587.0 L2366.0,1580.0 M2346.0,1588.0 L2346.0,1595.0 M2360.0,1587.0 L2360.0,1594.0"/><ellipse class="th" cx="2352" cy="1581.0" rx="7.0" ry="4.5"/><ellipse class="th" cx="2352" cy="1581.0" rx="4.0" ry="2.5"/>
<path class="ol" style="stroke-width:2" d="M2332.7,1644.0 L2338.4,1636.5 L2351.7,1634.5 L2359.3,1641.2 L2359.3,1647.8 L2353.6,1654.5 L2340.3,1655.5 L2332.7,1649.8 Z"/><path class="th" d="M2332.7,1644.0 L2340.3,1648.8 L2353.6,1647.8 L2359.3,1641.2 M2340.3,1648.8 L2340.3,1655.5 M2353.6,1647.8 L2353.6,1654.5"/><ellipse class="th" cx="2346" cy="1642.15" rx="6.6499999999999995" ry="4.2749999999999995"/><ellipse class="th" cx="2346" cy="1642.15" rx="3.8" ry="2.375"/>
<path class="dc" d="M1950,1346 L1945,1400 M1941,1423 L1935,1465 M2350,1596 L2345,1632 M2342,1656 L2337,1690"/>
<!-- parts_arms.svg -->
<g id="arm-up">
<path class="ol" d="M1538.7,1722.2 C1560,1718 1600,1716 1665.4,1716.4 L1746,1717.9 L1763.2,1720.7 L1797.8,1720.7 C1806,1724 1810,1732 1809.3,1743.8 L1806,1752"/>
<path class="ol" d="M1538.7,1722.2 L1538,1731 C1535,1734 1530,1734 1527.2,1733.7 C1518,1732 1507,1735 1500,1740 C1488,1750 1483,1762 1485,1775 C1487,1785 1494,1790 1504.2,1789.8 C1512,1790 1520,1789 1523,1781"/>
<path class="ol" d="M1807,1756 C1804,1764 1797,1770 1790,1772 L1751.7,1772 L1665.4,1769.7 L1579,1771 C1560,1772 1545,1773 1538.7,1774"/>
<ellipse class="th" style="stroke-width:2" cx="1504.2" cy="1762.5" rx="8.6" ry="12.2" transform="rotate(20 1504.2 1762.5)"/>
<path class="th" d="M1538.7,1740.9 C1550,1737 1565,1735 1579,1735 L1751.7,1732.2 C1758,1734 1761,1738 1760.3,1744 L1757.5,1761 L1579,1761 C1560,1762 1548,1766 1538.7,1771 M1538.7,1728 C1545,1725 1547,1735 1544,1740 M1531,1740 L1526,1785 M1745,1718 L1745,1732 M1760,1721 L1752,1735 M1750,1761 L1750,1771 M1524,1746 L1533,1738"/>
<ellipse class="th" cx="1773.3" cy="1749.5" rx="4.5" ry="7.5" transform="rotate(20 1773.3 1749.5)"/>
<ellipse class="th" cx="1796.3" cy="1749.5" rx="4.5" ry="7.5" transform="rotate(20 1796.3 1749.5)"/>
<ellipse class="th" cx="1616.4" cy="1745.8" rx="1.5" ry="2.5"/>
</g>
<g id="arm-bot">
<path class="ol" d="M1145.4,2802.5 C1165,2798 1180,2796 1199,2795.8 L1351.4,2797 L1367,2800.3 L1409.6,2801.4 C1416,2804 1419,2810 1418.5,2822.7 L1414,2834"/>
<path class="ol" d="M1145.4,2802.5 L1143,2811 C1140,2814 1137,2814 1136.4,2813.7 C1128,2814 1118,2816 1110,2820 C1098,2828 1093,2840 1094,2850 C1095,2862 1101,2867 1110,2867.5 C1118,2868 1126,2867 1132,2863"/>
<path class="ol" d="M1412,2840 C1408,2845 1400,2851 1389.4,2853 L1360.3,2851.8 L1266.3,2849.6 L1199,2849.6 C1170,2850 1155,2852 1145.4,2854"/>
<ellipse class="th" style="stroke-width:2" cx="1113" cy="2842.4" rx="8.5" ry="11.5" transform="rotate(20 1113 2842.4)"/>
<path class="th" d="M1147.6,2820.5 C1165,2816 1190,2814 1210.3,2813.7 L1355.8,2817 C1364,2818 1369,2822 1369.3,2828 L1369.3,2834 C1368,2838 1364,2840 1360.3,2840.6 L1210.3,2839.5 C1180,2840 1160,2843 1147.6,2846.2 M1148.7,2813.7 C1156,2812 1158,2822 1154,2827 M1140,2826 L1126,2866 M1356,2797 L1358,2813 M1366,2844 L1363,2851"/>
<ellipse class="th" cx="1382.7" cy="2828.3" rx="4.5" ry="7.5" transform="rotate(20 1382.7 2828.3)"/>
<ellipse class="th" cx="1406.2" cy="2828.3" rx="4.5" ry="7.5" transform="rotate(20 1406.2 2828.3)"/>
<ellipse class="th" cx="1226" cy="2825" rx="1.5" ry="2.5"/>
</g>
<g id="arm-right">
<path class="ol" d="M2052.6,2049.7 C2060,2049 2068,2050 2073.7,2050.8 C2095,2055 2105,2060 2119.4,2062 C2150,2068 2180,2071 2207.4,2071.9 L2358.6,2072.6 L2365.7,2067.3 L2397.3,2068.4 C2405,2070 2410,2075 2409.6,2085 C2409,2100 2406,2110 2400.9,2114.8 C2395,2120 2388,2121 2379.8,2121.8 L2344.6,2123.6 L2221.4,2123.6 C2180,2122 2150,2121 2133.5,2118.3 C2110,2113 2100,2107 2091.3,2106 L2056,2104.2 C2045,2103 2038,2100 2035,2097.2 C2028,2090 2027,2080 2028,2075 C2030,2065 2040,2052 2052.6,2049.7 Z"/>
<ellipse class="th" style="stroke-width:2" cx="2049.8" cy="2077.9" rx="8" ry="10" transform="rotate(25 2049.8 2077.9)"/>
<path class="th" d="M2080.7,2072.6 C2120,2077 2180,2083 2221.4,2083 L2355.1,2086.6 C2360,2088 2361,2096 2358.6,2099 L2221.4,2099 C2170,2097 2120,2093 2079,2086.6 C2075,2084 2076,2074 2080.7,2072.6 Z M2105.3,2100.7 C2170,2108 2250,2111 2351.6,2111.3 L2346,2122 M2072,2058.5 L2059.6,2093.7 M2119.4,2062 L2200,2074"/>
<ellipse class="th" cx="2374.5" cy="2095.4" rx="4.5" ry="7.5" transform="rotate(20 2374.5 2095.4)"/>
<ellipse class="th" cx="2397.3" cy="2095.4" rx="4.5" ry="7.5" transform="rotate(20 2397.3 2095.4)"/>
<ellipse class="th" cx="2225" cy="2097" rx="1.5" ry="2.5"/>
</g>
<g id="arm-left">
<path class="ol" d="M465.3,2448.2 C472,2444 478,2442 482.9,2442.2 C495,2442 505,2443 518.1,2446.5 C530,2450 538,2455 546.3,2457 C580,2462 620,2464 651.8,2464 L778.4,2463.3 L787.2,2460.5 L820.7,2461.2 C827,2464 830,2470 829.4,2478 C829,2490 826,2500 817.1,2508 C813,2510 810,2511 806.6,2511.5 L757.3,2516.8 L651.8,2515 C600,2513 570,2511 546.3,2509.8 C530,2508 520,2503 511,2501 L454.8,2495.7 C450,2493 449,2489 449.5,2485.2 L447.8,2467.6 C448,2460 455,2452 465.3,2448.2 Z"/>
<ellipse class="th" style="stroke-width:2" cx="468.9" cy="2470" rx="8" ry="11" transform="rotate(20 468.9 2470)"/>
<path class="th" d="M497,2464 C560,2470 650,2476 778.4,2479.9 C784,2482 784,2492 778.4,2494 C650,2491 560,2488 497,2483.4 C492,2481 491,2467 497,2464 Z M511,2490.4 C600,2497 700,2502 760.9,2504.5 L770,2513 M491.7,2450 L481,2488.7 M546.3,2457 L640,2465"/>
<ellipse class="th" cx="794.3" cy="2488.7" rx="4.5" ry="7.5" transform="rotate(20 794.3 2488.7)"/>
<ellipse class="th" cx="817.1" cy="2488.7" rx="4.5" ry="7.5" transform="rotate(20 817.1 2488.7)"/>
<ellipse class="th" cx="645" cy="2489" rx="1.5" ry="2.5"/>
</g>
<ellipse class="ol" cx="1403.5" cy="1704.9" rx="18" ry="23.5" transform="rotate(25 1403.5 1704.9)"/><ellipse class="th" cx="1404.5" cy="1704.9" rx="9.0" ry="12.925" transform="rotate(25 1403.5 1704.9)"/><ellipse class="th" cx="1405.5" cy="1704.9" rx="5.3999999999999995" ry="8.225" transform="rotate(25 1403.5 1704.9)"/>
<ellipse class="ol" cx="1051.3" cy="2809.3" rx="18" ry="23.5" transform="rotate(25 1051.3 2809.3)"/><ellipse class="th" cx="1052.3" cy="2809.3" rx="9.0" ry="12.925" transform="rotate(25 1051.3 2809.3)"/><ellipse class="th" cx="1053.3" cy="2809.3" rx="5.3999999999999995" ry="8.225" transform="rotate(25 1051.3 2809.3)"/>
<ellipse class="ol" cx="2263.7" cy="2202.7" rx="18" ry="23" transform="rotate(20 2263.7 2202.7)"/><ellipse class="th" cx="2263.7" cy="2202.7" rx="5.3999999999999995" ry="8.049999999999999" transform="rotate(20 2263.7 2202.7)"/>
<ellipse class="ol" cx="610" cy="2550" rx="18" ry="23" transform="rotate(20 610 2550)"/><ellipse class="th" cx="610" cy="2550" rx="5.3999999999999995" ry="8.049999999999999" transform="rotate(20 610 2550)"/>
<path class="ol" style="stroke-width:2.2" d="M1330.4,1666.4 L1335.4,1658.4 L1347.4,1657.4 L1354.4,1664.4 L1354.4,1675.4 L1348.4,1682.4 L1336.4,1683.4 L1330.4,1675.4 Z"/><ellipse class="th" cx="1343.4" cy="1670.4" rx="6.0" ry="7.0"/><ellipse class="th" cx="1343.9" cy="1670.4" rx="3.5" ry="4.0"/><path class="th" d="M1330.4,1666.4 L1337.4,1669.4 L1336.4,1683.4 M1337.4,1669.4 L1354.4,1664.4"/>
<path class="ol" style="stroke-width:2.2" d="M2316.7,2233.9 L2321.7,2225.9 L2333.7,2224.9 L2340.7,2231.9 L2340.7,2242.9 L2334.7,2249.9 L2322.7,2250.9 L2316.7,2242.9 Z"/><ellipse class="th" cx="2329.7" cy="2237.9" rx="6.0" ry="7.0"/><ellipse class="th" cx="2330.2" cy="2237.9" rx="3.5" ry="4.0"/><path class="th" d="M2316.7,2233.9 L2323.7,2236.9 L2322.7,2250.9 M2323.7,2236.9 L2340.7,2231.9"/>
<path class="ol" style="stroke-width:2.2" d="M958.6,2773.2 L963.4,2765.6 L974.8,2764.7 L981.4,2771.3 L981.4,2781.8 L975.7,2788.4 L964.3,2789.3 L958.6,2781.8 Z"/><ellipse class="th" cx="970.95" cy="2777" rx="5.699999999999999" ry="6.6499999999999995"/><ellipse class="th" cx="971.425" cy="2777" rx="3.3249999999999997" ry="3.8"/><path class="th" d="M958.6,2773.2 L965.2,2776.1 L964.3,2789.3 M965.2,2776.1 L981.4,2771.3"/>
<path class="ol" style="stroke-width:2.2" d="M683.0,2593.0 L688.0,2585.0 L700.0,2584.0 L707.0,2591.0 L707.0,2602.0 L701.0,2609.0 L689.0,2610.0 L683.0,2602.0 Z"/><ellipse class="th" cx="696.0" cy="2597" rx="6.0" ry="7.0"/><ellipse class="th" cx="696.5" cy="2597" rx="3.5" ry="4.0"/><path class="th" d="M683.0,2593.0 L690.0,2596.0 L689.0,2610.0 M690.0,2596.0 L707.0,2591.0"/>
<g transform="translate(1593.4,1815.7) rotate(-149.0)"><path class="ol" style="stroke-width:2.2" d="M-4,-12 L4,-12 L8,-6 L8,6 L4,12 L-4,12 L-8,6 L-8,-6 Z"/><path class="th" d="M-8,-6 L4,-6 L8,-12 M-8,6 L4,6 L8,12 M4,-6 L4,6"/><path class="ol" style="stroke-width:2" d="M8,-6 L33.6,-6 C37.6,-6 37.6,6 33.6,6 L8,6"/><path class="th" d="M14,-6 C17,-3 17,3 14,6 M20,-6 C23,-3 23,3 20,6 M26,-6 C29,-3 29,3 26,6 M32,-6 C35,-3 35,3 32,6 "/></g>
<g transform="translate(1959.3,2026.8) rotate(26.6)"><path class="ol" style="stroke-width:2.2" d="M-4,-12 L4,-12 L8,-6 L8,6 L4,12 L-4,12 L-8,6 L-8,-6 Z"/><path class="th" d="M-8,-6 L4,-6 L8,-12 M-8,6 L4,6 L8,12 M4,-6 L4,6"/><path class="ol" style="stroke-width:2" d="M8,-6 L35.5,-6 C39.5,-6 39.5,6 35.5,6 L8,6"/><path class="th" d="M14,-6 C17,-3 17,3 14,6 M20,-6 C23,-3 23,3 20,6 M26,-6 C29,-3 29,3 26,6 M32,-6 C35,-3 35,3 32,6 "/></g>
<g transform="translate(356.3,2400.7) rotate(29.3)"><path class="ol" style="stroke-width:2.2" d="M-4,-12 L4,-12 L8,-6 L8,6 L4,12 L-4,12 L-8,6 L-8,-6 Z"/><path class="th" d="M-8,-6 L4,-6 L8,-12 M-8,6 L4,6 L8,12 M4,-6 L4,6"/><path class="ol" style="stroke-width:2" d="M8,-6 L32.2,-6 C36.2,-6 36.2,6 32.2,6 L8,6"/><path class="th" d="M14,-6 C17,-3 17,3 14,6 M20,-6 C23,-3 23,3 20,6 M26,-6 C29,-3 29,3 26,6 M32,-6 C35,-3 35,3 32,6 "/></g>
<g transform="translate(1225,2907) rotate(-153.4)"><path class="ol" style="stroke-width:2.2" d="M-4,-12 L4,-12 L8,-6 L8,6 L4,12 L-4,12 L-8,6 L-8,-6 Z"/><path class="th" d="M-8,-6 L4,-6 L8,-12 M-8,6 L4,6 L8,12 M4,-6 L4,6"/><path class="ol" style="stroke-width:2" d="M8,-6 L31.3,-6 C35.3,-6 35.3,6 31.3,6 L8,6"/><path class="th" d="M14,-6 C17,-3 17,3 14,6 M20,-6 C23,-3 23,3 20,6 M26,-6 C29,-3 29,3 26,6 "/></g>
<!-- parts_misc.svg -->
<g id="rod-up">
<ellipse class="ol" style="stroke-width:2.6" cx="1924.5" cy="1580" rx="7.9" ry="3.5" transform="rotate(-4 1924.5 1580)"/>
<path class="ol" style="stroke-width:3" d="M1916.7,1580 L1895.7,1775 C1892,1769 1885,1767 1877.3,1769.8 C1871,1774 1869,1784 1869.5,1792 C1871,1797 1879,1798 1882,1793.4 L1884,1780 C1888,1781 1896,1782 1903.6,1781.6 C1907,1780 1909,1778 1908,1775 L1932.4,1581"/>
<path class="th" d="M1884,1780 C1886,1772 1892,1772 1897,1775"/>
</g>
<path class="th" d="M1915.4,1592 C1919.4,1595 1926.9,1595 1930.9,1592 M1914.0,1605 C1918.0,1608 1925.3,1608 1929.3,1605 M1912.6,1618 C1916.6,1621 1923.6,1621 1927.6,1618 M1911.1,1632 C1915.1,1635 1921.9,1635 1925.9,1632 M1909.7,1645 C1913.7,1648 1920.3,1648 1924.3,1645 M1908.2,1659 C1912.2,1662 1918.5,1662 1922.5,1659 M1906.6,1674 C1910.6,1677 1916.6,1677 1920.6,1674 M1905.3,1686 C1909.3,1689 1915.1,1689 1919.1,1686 M1904.2,1696 C1908.2,1699 1913.9,1699 1917.9,1696 "/>
<g id="rod-low">
<ellipse class="ol" style="stroke-width:2.6" cx="2325.9" cy="1812" rx="8.5" ry="3.5" transform="rotate(-4 2325.9 1812)"/>
<path class="ol" style="stroke-width:3" d="M2317.6,1813.9 L2297.2,2006 C2297,2012 2298,2016 2300,2020 C2303,2026 2310,2030 2314.6,2033.3 C2316,2038 2315,2044 2315.3,2048.4 C2316,2053 2318,2055 2322,2054.5 C2326,2054 2328,2051 2329,2045 C2330,2035 2328,2025 2322.9,2018 C2319,2014 2314,2012 2310.8,2010.6 C2309,2008 2309,2006 2310,2006 L2333.5,1813.9"/>
<path class="th" d="M2310,2028 L2318,2020 M2298,2007 L2310,2007"/>
</g>
<path class="th" d="M2316.4,1823 C2320.4,1826 2328.2,1826 2332.2,1823 M2315.0,1837 C2319.0,1840 2326.5,1840 2330.5,1837 M2313.6,1850 C2317.6,1853 2324.9,1853 2328.9,1850 M2312.1,1864 C2316.1,1867 2323.2,1867 2327.2,1864 M2310.8,1877 C2314.8,1880 2321.6,1880 2325.6,1877 M2309.3,1891 C2313.3,1894 2319.9,1894 2323.9,1891 M2307.7,1906 C2311.7,1909 2318.1,1909 2322.1,1906 M2306.5,1918 C2310.5,1921 2316.7,1921 2320.7,1918 M2305.5,1927 C2309.5,1930 2315.6,1930 2319.6,1927 "/>
<path class="th" d="M2220,2048 C2228,2030 2232,2020 2239.7,2015 L2262.4,2007.5 C2266,2006 2270,2008 2271.4,2012 L2272.2,2057.5 M2228,2052 C2236,2035 2240,2025 2246,2021 L2266,2014"/>
<path class="ol" style="stroke-width:2" d="M2257,2023 L2275,2031 M2254,2036 L2270,2044 M2257,2023 C2250,2024 2249,2033 2254,2036"/>
<ellipse class="ol" style="stroke-width:2" cx="2273" cy="2038" rx="5" ry="7" transform="rotate(-10 2273 2038)"/><ellipse class="th" cx="2274" cy="2038" rx="2.5" ry="4"/><path class="th" d="M2263,2029 C2266,2026 2270,2027 2269,2030 C2268,2032 2264,2032 2263,2029 Z"/>
<path class="th" d="M1820,1779 C1823,1774 1828,1773 1833,1775 C1829,1779 1824,1782 1821,1784 M1833,1775 L1838,1775 M1818,1780 L1814.5,1797.5 M1837,1778 C1830,1782 1823,1790 1819.3,1800.4"/>
<path class="th" d="M1840,1790 L1846,1785 L1855,1787 L1859,1792 L1857,1801 L1851,1804 L1842,1801 L1839,1796 Z M1846,1785 L1848,1793 L1859,1792 M1848,1793 L1846,1802 M1845,1770 C1848,1767 1855,1767 1858,1772 L1859.5,1777"/>
<path class="dc" d="M1940,1640 L1926,1576 M1924,1566 L1930,1530 M2325,1806 L2338,1740 M2340,1730 L2343,1700"/>
<path class="ol" style="stroke-width:3" d="M588.7,2282.2 L647.5,2250.3 C651,2247 654,2244 657.3,2243 L677,2243 C690,2238 700,2230 711.3,2227 C716,2227 720,2229 723.5,2230.7 L740,2240 M593.6,2290.8 L652.4,2257.7 C658,2256 665,2257 672,2256.5 C678,2252 683,2249 686.7,2248 L708.8,2238 L735,2252"/>
<ellipse class="ol" style="stroke-width:2.6" cx="739" cy="2246" rx="5" ry="7.5" transform="rotate(35 739 2246)"/>
<ellipse class="ol" style="stroke-width:2.6" cx="590.5" cy="2286.5" rx="4.5" ry="7.5" transform="rotate(-30 590.5 2286.5)"/>
<path class="th" d="M603,2275 C606,2279 607,2284 605,2290 M613,2270 C616,2274 617,2279 615,2285 M623,2264 C626,2268 627,2273 625,2279 M633,2259 C636,2263 637,2268 635,2274 M643,2254 C646,2258 647,2263 645,2269 M658,2243 C662,2248 663,2252 662,2257 M680,2242 C684,2246 684,2252 682,2254 M712,2227 C708,2232 706,2236 708,2238 M727,2234 L720,2246"/>
<path class="ol" style="stroke-width:3" d="M1496,3011 L1551,2981 C1553,2976 1553,2970 1557,2966 L1575,2953 L1563,2944 C1558,2940 1559,2933 1565,2931 C1571,2929 1576,2931 1581,2935 L1593,2942 C1598,2946 1597,2954 1592,2958 L1573,2970 C1569,2974 1570,2982 1567,2988 C1565,2992 1562,2993 1558,2995 L1503,3027"/>
<ellipse class="ol" style="stroke-width:2.6" cx="1499.5" cy="3019" rx="4.5" ry="8" transform="rotate(-30 1499.5 3019)"/>
<path class="th" d="M1508,3006 C1512,3010 1513,3016 1511,3022 M1518,3000 C1522,3004 1523,3010 1521,3016 M1528,2995 C1532,2999 1533,3005 1531,3011 M1538,2990 C1542,2994 1543,3000 1541,3006 M1548,2984 C1552,2988 1553,2994 1551,3000 M1557,2966 C1563,2968 1567,2972 1567,2988 M1575,2953 C1580,2955 1582,2960 1580,2963 M1565,2935 C1569,2934 1572,2935 1573,2937"/>
<g transform="translate(722,2536) rotate(31.5)"><path class="ol" style="stroke-width:2.5" d="M-10,0 L2,0 M55.5,0 L69.5,0"/><rect x="2" y="-5.5" width="53.5" height="11" rx="4" fill="#000"/><path d="M5,-3 L7,3 M10,-3 L12,3 M15,-3 L17,3 M20,-3 L22,3 M25,-3 L27,3 M30,-3 L32,3 M35,-3 L37,3 M40,-3 L42,3 M45,-3 L47,3 M50,-3 L52,3 " stroke="#fff" stroke-width="0.8" fill="none"/></g>
<g transform="translate(1088,2744) rotate(31.0)"><path class="ol" style="stroke-width:2.5" d="M-10,0 L2,0 M68.0,0 L82.0,0"/><rect x="2" y="-5.5" width="66.0" height="11" rx="4" fill="#000"/><path d="M5,-3 L7,3 M10,-3 L12,3 M15,-3 L17,3 M20,-3 L22,3 M25,-3 L27,3 M30,-3 L32,3 M35,-3 L37,3 M40,-3 L42,3 M45,-3 L47,3 M50,-3 L52,3 M55,-3 L57,3 M60,-3 L62,3 M65,-3 L67,3 " stroke="#fff" stroke-width="0.8" fill="none"/></g>
<path class="th" style="stroke-width:2" d="M1630,1702 L1630,1656 C1630,1650 1636,1646 1642,1649 L1652,1656 C1656,1660 1652,1665 1646,1662 L1636,1656 M1636,1702 L1636,1664 M1638,1670 C1644,1674 1640,1680 1636,1678 C1644,1684 1640,1690 1636,1688"/>
<path class="th" style="stroke-width:2" d="M2467,2172 L2467,2136 C2467,2130 2473,2126 2479,2129 L2489,2136 C2493,2140 2489,2145 2483,2142 L2473,2136 M2473,2172 L2473,2144 M2475,2150 C2481,2154 2477,2160 2473,2158 C2481,2164 2477,2170 2473,2168"/>
<path class="th" style="stroke-width:2" d="M857,2550 L857,2506 C857,2500 863,2496 869,2499 L879,2506 C883,2510 879,2515 873,2512 L863,2506 M863,2550 L863,2514 M865,2520 C871,2524 867,2530 863,2528 C871,2534 867,2540 863,2538"/>
<path class="th" style="stroke-width:2" d="M1262,2794 L1262,2748 C1262,2742 1268,2738 1274,2741 L1284,2748 C1288,2752 1284,2757 1278,2754 L1268,2748 M1268,2794 L1268,2756 M1270,2762 C1276,2766 1272,2772 1268,2770 C1276,2776 1272,2782 1268,2780"/>
<path class="ol" style="stroke-width:3" d="M541.0,2296.5 L548.0,2287.5 L562.0,2285.5 L571.0,2293.5 L571.0,2309.5 L564.0,2318.5 L550.0,2319.5 L541.0,2310.5 Z"/><ellipse class="th" style="stroke-width:2" cx="558.0" cy="2303.5" rx="8.0" ry="9.0"/><ellipse class="th" cx="559.0" cy="2303.5" rx="5.0" ry="6.0"/><path class="th" d="M541.0,2296.5 L549.0,2300.5 M571.0,2293.5 L564.0,2296.5"/>
<path class="ol" style="stroke-width:3" d="M617.5,2364.0 L624.5,2355.0 L638.5,2353.0 L647.5,2361.0 L647.5,2377.0 L640.5,2386.0 L626.5,2387.0 L617.5,2378.0 Z"/><ellipse class="th" style="stroke-width:2" cx="634.5" cy="2371.0" rx="8.0" ry="9.0"/><ellipse class="th" cx="635.5" cy="2371.0" rx="5.0" ry="6.0"/><path class="th" d="M617.5,2364.0 L625.5,2368.0 M647.5,2361.0 L640.5,2364.0"/>
<path class="ol" style="stroke-width:3" d="M1297.8,2962.3 L1304.4,2953.8 L1317.7,2951.8 L1326.2,2959.4 L1326.2,2974.7 L1319.6,2983.2 L1306.3,2984.2 L1297.8,2975.6 Z"/><ellipse class="th" style="stroke-width:2" cx="1313.9" cy="2968.95" rx="7.6" ry="8.549999999999999"/><ellipse class="th" cx="1314.85" cy="2968.95" rx="4.75" ry="5.699999999999999"/><path class="th" d="M1297.8,2962.3 L1305.3,2966.1 M1326.2,2959.4 L1319.6,2962.3"/>
<path class="ol" style="stroke-width:3" d="M1442.5,3036.5 L1449.5,3027.5 L1463.5,3025.5 L1472.5,3033.5 L1472.5,3049.5 L1465.5,3058.5 L1451.5,3059.5 L1442.5,3050.5 Z"/><ellipse class="th" style="stroke-width:2" cx="1459.5" cy="3043.5" rx="8.0" ry="9.0"/><ellipse class="th" cx="1460.5" cy="3043.5" rx="5.0" ry="6.0"/><path class="th" d="M1442.5,3036.5 L1450.5,3040.5 M1472.5,3033.5 L1465.5,3036.5"/>
<g class="ld"><line x1="910" y1="2805" x2="957" y2="2777"/><line x1="982" y1="2860" x2="1030" y2="2832"/></g>
<path class="dc" d="M1360,1680 L1390,1696 M1420,1714 L1514,1770 M1520,1775 L1561,1796 M1664,1686 L1710,1712 M1806,1752 L1870,1785"/>
<path class="dc" d="M1993,2044 L2030,2065 M2060,2085 L2245,2190 M2281,2213 L2318,2231 M2383,2102 L2461,2145 M2278,2044 L2353,2071"/>
<path class="dc" d="M384,2416 L455,2452 M481,2487 L590,2540 M627,2563 L685,2592 M660,2485 L720,2534 M830,2480 L860,2505 M600,2294 L655,2272"/>
<path class="dc" d="M1068,2800 L1105,2822 M1120,2850 L1200,2895 M1225,2770 L1255,2790 M1045,2755 L1085,2742 M1150,2782 L1170,2793 M1320,2960 L1385,2930 M1470,3035 L1497,3022"/>
<path class="dc" d="M985,2795 L1035,2812 M870,2502 L920,2515"/>
<!-- leaders.svg -->
<g class="ld">
<line x1="1189.5" y1="825" x2="1263.75" y2="782.5"/>
<line x1="1413.75" y1="790" x2="1481" y2="829.5"/>
<line x1="1780" y1="836" x2="1837" y2="806"/>
<line x1="2305" y1="1062" x2="2372" y2="1100"/>
<line x1="2647" y1="1225" x2="2580" y2="1190"/>
<line x1="1865" y1="1282" x2="1940" y2="1322"/>
<line x1="1861" y1="1367" x2="1930" y2="1405"/>
<line x1="2267" y1="1532" x2="2340" y2="1575"/>
<line x1="2260" y1="1597" x2="2332" y2="1637"/>
<line x1="2565" y1="1695" x2="2502" y2="1660"/>
<line x1="1845" y1="1567" x2="1910" y2="1602"/>
<line x1="2242.7" y1="1795.8" x2="2311" y2="1835"/>
<line x1="1355" y1="1657" x2="1417" y2="1625"/>
<line x1="1560" y1="1605" x2="1627" y2="1645"/>
<line x1="1545" y1="1677" x2="1605" y2="1714"/>
<line x1="1322" y1="1762" x2="1382" y2="1727"/>
<line x1="1615" y1="1812" x2="1692" y2="1812"/>
<line x1="1980" y1="2025" x2="2035" y2="1994"/>
<line x1="2145" y1="2030" x2="2210" y2="2067"/>
<line x1="2342" y1="2227" x2="2402" y2="2192"/>
<line x1="2490" y1="2147" x2="2555" y2="2184"/>
<line x1="2187" y1="2262" x2="2250" y2="2227"/>
<line x1="617" y1="2193" x2="683" y2="2232"/>
<line x1="467" y1="2245" x2="545" y2="2290"/>
<line x1="510" y1="2369" x2="607" y2="2369"/>
<line x1="315" y1="2447" x2="362" y2="2422"/>
<line x1="882" y1="2502" x2="957" y2="2459"/>
<line x1="397" y1="2552" x2="482" y2="2504"/>
<line x1="547" y1="2600" x2="595" y2="2575"/>
<line x1="637" y1="2637" x2="687" y2="2610"/>
<line x1="847" y1="2605" x2="775" y2="2569"/>
<line x1="1042" y1="2707" x2="1110" y2="2745"/>
<line x1="1295" y1="2745" x2="1372" y2="2702"/>
<line x1="1187" y1="2755" x2="1255" y2="2795"/>
<line x1="1157" y1="2942" x2="1205" y2="2917"/>
<line x1="1252" y1="3007" x2="1300" y2="2980"/>
<line x1="1640" y1="3010" x2="1575" y2="2972"/>
<line x1="1537" y1="3095" x2="1470" y2="3057"/>
</g>
<!-- labels.svg -->
<text class="lb" x="1156" y="871">12</text>
<text class="lb" x="1480" y="879">1</text>
<text class="lb" x="1766" y="877">5</text>
<text class="lb" x="2277" y="1064">10</text>
<text class="lb" x="2662" y="1270">10</text>
<text class="lb" x="1837" y="1282">16</text>
<text class="lb" x="1830" y="1367">11</text>
<text class="lb" x="2241" y="1537">16</text>
<text class="lb" x="2231" y="1599">11</text>
<text class="lb" x="2573" y="1740">3</text>
<text class="lb" x="1830" y="1567">4</text>
<text class="lb" x="2228" y="1798">4</text>
<text class="lb" x="1448" y="1622">15</text>
<text class="lb" x="1546" y="1607">2</text>
<text class="lb" x="1531" y="1676">6</text>
<text class="lb" x="1312" y="1807">7</text>
<text class="lb" x="1720" y="1830">13</text>
<text class="lb" x="2055" y="1992">13</text>
<text class="lb" x="2133" y="2027">6</text>
<text class="lb" x="2422" y="2192">15</text>
<text class="lb" x="2563" y="2227">2</text>
<text class="lb" x="2175" y="2305">7</text>
<text class="lb" x="605" y="2193">8</text>
<text class="lb" x="440" y="2247">14</text>
<text class="lb" x="480" y="2390">14</text>
<text class="lb" x="292" y="2492">13</text>
<text class="lb" x="975" y="2460">2</text>
<text class="lb" x="382" y="2592">6</text>
<text class="lb" x="531" y="2640">7</text>
<text class="lb" x="608" y="2680">15</text>
<text class="lb" x="856" y="2650">9</text>
<text class="lb" x="1036" y="2705">9</text>
<text class="lb" x="1388" y="2705">2</text>
<text class="lb" x="1178" y="2755">6</text>
<text class="lb" x="878" y="2847">15</text>
<text class="lb" x="971" y="2900">7</text>
<text class="lb" x="1135" y="2988">13</text>
<text class="lb" x="1231" y="3052">14</text>
<text class="lb" x="1650" y="3052">8</text>
<text class="lb" x="1563" y="3137">14</text>
<rect x="2249.5" y="1380.5" width="49" height="49" rx="8" fill="none" stroke="#000" stroke-width="5"/><text class="bx" x="2274" y="1423">B</text>
<rect x="1984.5" y="1545.5" width="49" height="49" rx="8" fill="none" stroke="#000" stroke-width="5"/><text class="bx" x="2009" y="1588">B</text>
<rect x="2446.5" y="1481.5" width="49" height="49" rx="8" fill="none" stroke="#000" stroke-width="5"/><text class="bx" x="2471" y="1524">A</text>
<rect x="2185.5" y="1643.5" width="49" height="49" rx="8" fill="none" stroke="#000" stroke-width="5"/><text class="bx" x="2210" y="1686">A</text>
<rect x="1441.5" y="2201.5" width="49" height="49" rx="8" fill="none" stroke="#000" stroke-width="5"/><text class="bx" x="1466" y="2244">D</text>
<rect x="1602.5" y="2278.5" width="49" height="49" rx="8" fill="none" stroke="#000" stroke-width="5"/><text class="bx" x="1627" y="2321">C</text>
<rect x="959.5" y="2274.5" width="49" height="49" rx="8" fill="none" stroke="#000" stroke-width="5"/><text class="bx" x="984" y="2317">D</text>
<rect x="1437.5" y="2754.5" width="49" height="49" rx="8" fill="none" stroke="#000" stroke-width="5"/><text class="bx" x="1462" y="2797">C</text>
</svg>
</body></html>
